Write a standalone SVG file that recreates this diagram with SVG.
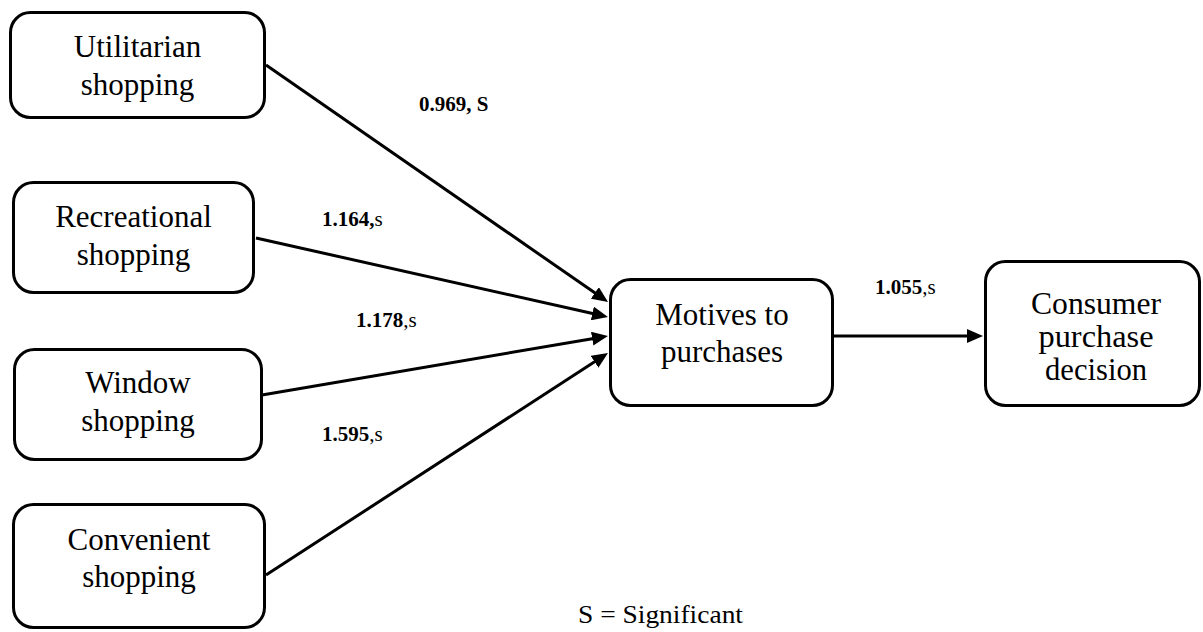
<svg xmlns="http://www.w3.org/2000/svg" width="1203" height="632" viewBox="0 0 1203 632">
<style>
.box{fill:#fff;stroke:#000;stroke-width:3}
.t{font-family:"Liberation Serif","Times New Roman",serif;font-size:31px;fill:#000;text-anchor:middle}
.lab{font-family:"Liberation Serif","Times New Roman",serif;font-size:21px;fill:#000}
.b{font-weight:bold}
.edge{stroke:#000;stroke-width:3;fill:none;marker-end:url(#arr)}
</style>
<defs>
<marker id="arr" markerUnits="userSpaceOnUse" markerWidth="16" markerHeight="14" refX="6" refY="7" orient="auto">
<path d="M0,0 L16,7 L0,14 z" fill="#000"/>
</marker>
</defs>
<rect width="1203" height="632" fill="#fff"/>
<g id="connectors">
<line class="edge" x1="266" y1="65" x2="599.8" y2="296.3"/>
<line class="edge" x1="256" y1="238" x2="598.2" y2="314.8"/>
<line class="edge" x1="262" y1="395" x2="598.1" y2="337.7"/>
<line class="edge" x1="266" y1="575" x2="599.6" y2="358.5"/>
<line class="edge" x1="833" y1="336" x2="973" y2="336"/>
</g>
<g id="node-utilitarian">
<rect class="box" x="10.5" y="12.5" width="254" height="105" rx="20"/>
<text class="t" x="137.5" y="57">Utilitarian</text>
<text class="t" x="137.5" y="95">shopping</text>
</g>
<g id="node-recreational">
<rect class="box" x="13.5" y="182.5" width="240" height="110" rx="20"/>
<text class="t" x="133.5" y="227">Recreational</text>
<text class="t" x="133.5" y="265">shopping</text>
</g>
<g id="node-window">
<rect class="box" x="14.5" y="349.5" width="247" height="110" rx="20"/>
<text class="t" x="138" y="393">Window</text>
<text class="t" x="138" y="431">shopping</text>
</g>
<g id="node-convenient">
<rect class="box" x="13.5" y="504.5" width="251" height="123" rx="20"/>
<text class="t" x="139" y="550">Convenient</text>
<text class="t" x="139" y="587">shopping</text>
</g>
<g id="node-motives">
<rect class="box" x="610.5" y="279.5" width="222" height="126" rx="20"/>
<text class="t" x="722" y="325">Motives to</text>
<text class="t" x="722" y="362">purchases</text>
</g>
<g id="node-consumer">
<rect class="box" x="985.5" y="261.5" width="214" height="144" rx="20"/>
<text class="t" x="1096" y="314" font-size="27" textLength="130" lengthAdjust="spacingAndGlyphs">Consumer</text>
<text class="t" x="1096" y="347" font-size="27" textLength="115" lengthAdjust="spacingAndGlyphs">purchase</text>
<text class="t" x="1096" y="380" font-size="27" textLength="102" lengthAdjust="spacingAndGlyphs">decision</text>
</g>
<g id="labels">
<text class="lab b" x="419" y="111" font-size="20">0.969, S</text>
<text class="lab" x="322" y="226" font-size="20"><tspan class="b">1.164,</tspan>s</text>
<text class="lab" x="356" y="327"><tspan class="b">1.178</tspan>,s</text>
<text class="lab" x="322" y="441"><tspan class="b">1.595</tspan>,s</text>
<text class="lab" x="875" y="294"><tspan class="b">1.055</tspan>,s</text>
<text x="578" y="623" font-family="Liberation Serif, serif" font-size="25" textLength="165" lengthAdjust="spacingAndGlyphs">S = Significant</text>
</g>
</svg>
